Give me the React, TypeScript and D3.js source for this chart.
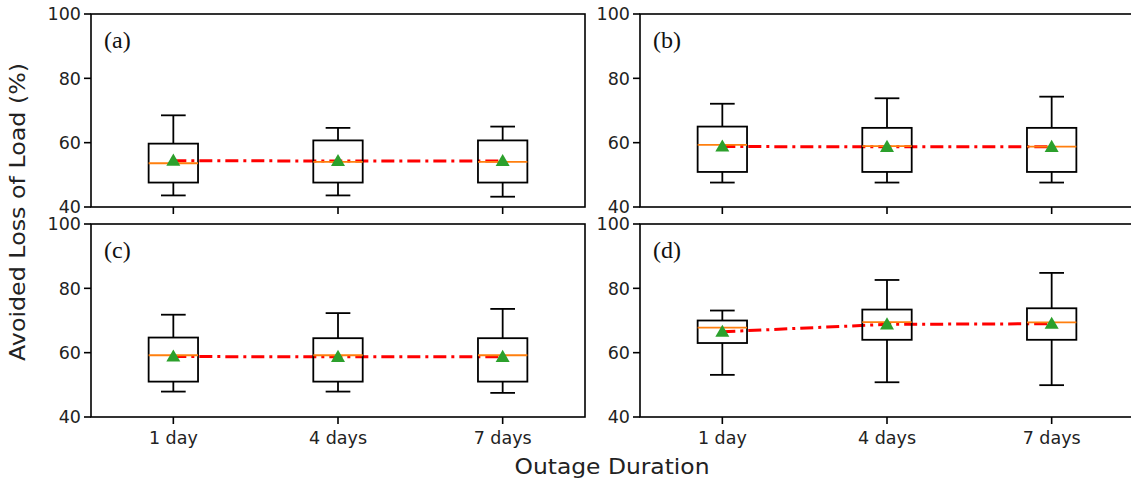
import React from "react";
import * as d3 from "d3";

const durations = ["1 day", "4 days", "7 days"];
const panelLabels = ["(a)", "(b)", "(c)", "(d)"];
const yTicks = [40, 60, 80, 100];

// per panel: one value per duration
const whiskerHigh = [
  [68.5, 64.6, 65.0],
  [72.1, 73.8, 74.3],
  [71.8, 72.3, 73.6],
  [73.1, 82.6, 84.8],
];
const q3 = [
  [59.7, 60.7, 60.7],
  [65.0, 64.6, 64.6],
  [64.7, 64.5, 64.5],
  [70.0, 73.4, 73.8],
];
const medians = [
  [53.6, 54.0, 54.0],
  [59.3, 58.9, 58.8],
  [59.2, 59.2, 59.2],
  [67.8, 69.5, 69.4],
];
const means = [
  [54.4, 54.3, 54.3],
  [58.8, 58.7, 58.7],
  [58.8, 58.7, 58.7],
  [66.5, 68.8, 69.0],
];
const q1 = [
  [47.6, 47.6, 47.6],
  [50.9, 50.9, 50.9],
  [51.0, 51.0, 51.0],
  [63.0, 64.0, 64.0],
];
const whiskerLow = [
  [43.6, 43.6, 43.2],
  [47.6, 47.6, 47.6],
  [47.9, 47.9, 47.5],
  [53.1, 50.8, 49.9],
];

const W = 1131;
const H = 483;
const colX = [91, 640];
const rowY = [14, 224];
const pw = 494;
const ph = 193;
const tickFont = "'DejaVu Sans', sans-serif";

function Panel({ i }: { i: number }) {
  const x0 = colX[i % 2];
  const y0 = rowY[Math.floor(i / 2)];
  const x = d3.scaleLinear().domain([0.5, 3.5]).range([0, pw]);
  const y = d3.scaleLinear().domain([40, 100]).range([ph, 0]);
  const bw = x(1.15) - x(0.85);
  const cw = x(1.075) - x(0.925);
  const showX = i >= 2;
  const line = d3
    .line<number>()
    .x((_, k) => x(k + 1))
    .y((d) => y(d));
  const tri = d3.symbol().type(d3.symbolTriangle).size(85)();

  return (
    <g transform={`translate(${x0},${y0})`}>
      <path
        d={line(means[i]) || ""}
        fill="none"
        stroke="#ff0000"
        strokeWidth={3}
        strokeDasharray="13 5 3 5"
      />
      {durations.map((dur, k) => {
        const cx = x(k + 1);
        return (
          <g key={dur}>
            <line x1={cx} x2={cx} y1={y(whiskerHigh[i][k])} y2={y(q3[i][k])} stroke="#000" strokeWidth={1.8} />
            <line x1={cx} x2={cx} y1={y(q1[i][k])} y2={y(whiskerLow[i][k])} stroke="#000" strokeWidth={1.8} />
            <line x1={cx - cw / 2} x2={cx + cw / 2} y1={y(whiskerHigh[i][k])} y2={y(whiskerHigh[i][k])} stroke="#000" strokeWidth={1.8} />
            <line x1={cx - cw / 2} x2={cx + cw / 2} y1={y(whiskerLow[i][k])} y2={y(whiskerLow[i][k])} stroke="#000" strokeWidth={1.8} />
            <rect
              x={cx - bw / 2}
              y={y(q3[i][k])}
              width={bw}
              height={y(q1[i][k]) - y(q3[i][k])}
              fill="none"
              stroke="#000"
              strokeWidth={1.8}
            />
            <line x1={cx - bw / 2} x2={cx + bw / 2} y1={y(medians[i][k])} y2={y(medians[i][k])} stroke="#ff7f0e" strokeWidth={1.8} />
            <path d={tri || ""} transform={`translate(${cx},${y(means[i][k]) + 1})`} fill="#2ca02c" />
          </g>
        );
      })}
      <rect x={0} y={0} width={pw} height={ph} fill="none" stroke="#000" strokeWidth={1.6} />
      {yTicks.map((t) => (
        <g key={t} transform={`translate(0,${y(t)})`}>
          <line x1={-7} x2={0} stroke="#000" strokeWidth={1.6} />
          <text x={-10} dy="0.36em" textAnchor="end" fontFamily={tickFont} fontSize={17.5} fill="#222">
            {t}
          </text>
        </g>
      ))}
      {durations.map((dur, k) => (
        <g key={dur} transform={`translate(${x(k + 1)},${ph})`}>
          <line y1={0} y2={7} stroke="#000" strokeWidth={1.6} />
          {showX && (
            <text y={27} textAnchor="middle" fontFamily={tickFont} fontSize={17.5} fill="#222">
              {dur}
            </text>
          )}
        </g>
      ))}
      <text x={13} y={34} fontFamily="'Liberation Serif', 'Times New Roman', serif" fontSize={24} fill="#111">
        {panelLabels[i]}
      </text>
    </g>
  );
}

export default function App() {
  return (
    <svg
      width={W}
      height={H}
      viewBox={`0 0 ${W} ${H}`}
      style={{ position: "absolute", left: 0, top: 0, background: "#fff" }}
    >
      <rect width={W} height={H} fill="#fff" />
      {[0, 1, 2, 3].map((i) => (
        <Panel key={i} i={i} />
      ))}
      <text
        transform="translate(25,212) rotate(-90)"
        textAnchor="middle"
        fontFamily={tickFont}
        fontSize={21}
        textLength={298}
        lengthAdjust="spacingAndGlyphs"
        fill="#222"
      >
        Avoided Loss of Load (%)
      </text>
      <text
        x={612}
        y={474}
        textAnchor="middle"
        fontFamily={tickFont}
        fontSize={21}
        textLength={195}
        lengthAdjust="spacingAndGlyphs"
        fill="#222"
      >
        Outage Duration
      </text>
    </svg>
  );
}
